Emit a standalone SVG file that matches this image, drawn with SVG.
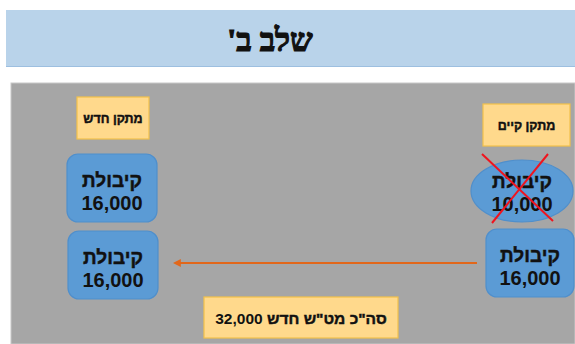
<svg xmlns="http://www.w3.org/2000/svg" width="575" height="344" viewBox="0 0 575 344">
  <defs>
    <style>
      .lbl { font-family: "Liberation Sans", "DejaVu Sans", sans-serif; font-weight: bold; fill: #111; text-anchor: middle; direction: rtl; }
      .heb { stroke: #111; stroke-width: 0.45; }
      .big { font-size: 19px; }
      .num { font-size: 20px; }
      .small { font-size: 12.5px; }
      .tag { fill: #ffd98c; stroke: #f2c04a; stroke-width: 1.2; }
      .blue { fill: #5b9bd5; stroke: #4f8fcc; stroke-width: 1.2; }
      .cross { stroke: #f0141e; stroke-width: 2; }
    </style>
    <marker id="ah" viewBox="0 0 10 10" refX="1" refY="5" markerWidth="4" markerHeight="4" orient="auto-start-reverse">
      <path d="M0,0 L10,5 L0,10 z" fill="#e2671a"/>
    </marker>
  </defs>
  <rect width="575" height="344" fill="#ffffff"/>
  <g id="header">
    <rect x="6" y="10" width="569" height="57" fill="#b9d3ea"/>
    <line x1="6" y1="66.5" x2="575" y2="66.5" stroke="#9dbfe0" stroke-width="1"/>
    <text x="270" y="51" font-family="'Liberation Serif', 'DejaVu Serif', serif" font-weight="bold" font-size="32" fill="#111" stroke="#111" stroke-width="1.2" text-anchor="middle" direction="rtl">שלב ב'</text>
  </g>
  <rect id="panel" x="11" y="83" width="564" height="261" fill="#a6a6a6" stroke="#c8c8c8" stroke-width="1"/>
  <g id="new-label">
    <rect class="tag" x="77" y="97" width="72" height="42"/>
    <text class="lbl small heb" x="113" y="122.5">מתקן חדש</text>
  </g>
  <g id="existing-label">
    <rect class="tag" x="483" y="104" width="87" height="42"/>
    <text class="lbl small heb" x="526.5" y="129.5">מתקן קיים</text>
  </g>
  <g id="new-cap-1">
    <rect class="blue" x="67" y="154" width="90" height="68" rx="11"/>
    <text class="lbl big heb" x="112" y="187">קיבולת</text>
    <text class="lbl num" x="112" y="209.5">16,000</text>
  </g>
  <g id="new-cap-2">
    <rect class="blue" x="68" y="231" width="90" height="68" rx="11"/>
    <text class="lbl big heb" x="113" y="264">קיבולת</text>
    <text class="lbl num" x="113" y="286.5">16,000</text>
  </g>
  <g id="old-cap">
    <ellipse class="blue" cx="522" cy="191" rx="51" ry="31"/>
    <text class="lbl big heb" x="522" y="188">קיבולת</text>
    <text class="lbl num" x="522" y="210.5">10,000</text>
  </g>
  <g id="existing-cap">
    <rect class="blue" x="486" y="229" width="88" height="68" rx="11"/>
    <text class="lbl big heb" x="530" y="262">קיבולת</text>
    <text class="lbl num" x="530" y="284.5">16,000</text>
  </g>
  <g id="total">
    <rect class="tag" x="204" y="297" width="194" height="41"/>
    <text class="lbl" font-size="15.5" x="301" y="323.5"><tspan class="heb">סה"כ מט"ש חדש</tspan> 32,000</text>
  </g>
  <g id="connectors">
    <line x1="477" y1="263" x2="180" y2="263" stroke="#e2671a" stroke-width="2" marker-end="url(#ah)"/>
    <line class="cross" x1="482" y1="154" x2="553" y2="221"/>
    <line class="cross" x1="548" y1="154" x2="492" y2="223"/>
  </g>
</svg>
